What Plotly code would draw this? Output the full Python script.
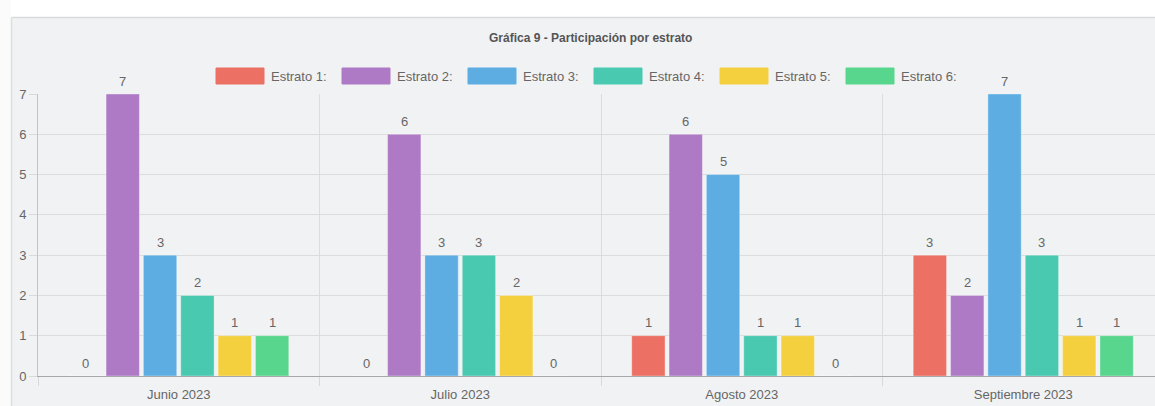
import plotly.graph_objects as go

# ---- data ----
categories = ["Junio 2023", "Julio 2023", "Agosto 2023", "Septiembre 2023"]
series_names = ["Estrato 1:", "Estrato 2:", "Estrato 3:", "Estrato 4:", "Estrato 5:", "Estrato 6:"]
estrato_1 = [0, 0, 1, 3]
estrato_2 = [7, 6, 6, 2]
estrato_3 = [3, 3, 5, 7]
estrato_4 = [2, 3, 1, 3]
estrato_5 = [1, 2, 1, 1]
estrato_6 = [1, 0, 0, 1]
series_values = [estrato_1, estrato_2, estrato_3, estrato_4, estrato_5, estrato_6]
colors = ["#EC7063", "#AF7AC5", "#5DADE2", "#48C9B0", "#F4D03F", "#58D68D"]
y_ticks = [0, 1, 2, 3, 4, 5, 6, 7]
title_text = "Gráfica 9 - Participación por estrato"

# ---- layout geometry (pixels) ----
W, H = 1155, 406
ML, MR, MT, MB = 38, 0, 94, 30
PW = W - ML - MR
PH = H - MT - MB
CAT_PX = 281.5
BARGAP = 0.204
BARGROUPGAP = 0.107
x_span = PW / CAT_PX
FONT = "Liberation Sans, Arial, Helvetica, sans-serif"
TXT = "#666666"


def px2x(px):
    return (px - ML) / PW


def px2y(py):
    return (H - MB - py) / PH


fig = go.Figure()
for name, vals, col in zip(series_names, series_values, colors):
    fig.add_trace(go.Bar(
        x=categories, y=vals, name=name,
        marker=dict(color=col, line=dict(color="rgba(255,255,255,0.35)", width=1)),
        showlegend=False, hoverinfo="x+y",
    ))

# value labels above the bars
slot = CAT_PX * (1 - BARGAP) / len(series_values)
annotations = []
n = len(series_values)
for i, vals in enumerate(series_values):
    for cat, v in zip(categories, vals):
        annotations.append(dict(
            x=cat, y=v, xref="x", yref="y", text=str(v), showarrow=False,
            xshift=(i - (n - 1) / 2) * slot, yshift=13, yanchor="middle",
            font=dict(family=FONT, size=13, color=TXT),
        ))

# title
annotations.append(dict(
    x=px2x(590), y=px2y(38), xref="paper", yref="paper", text="<b>" + title_text + "</b>",
    showarrow=False, xanchor="center", yanchor="middle",
    font=dict(family=FONT, size=12, color="#555555"),
))

shapes = []
# outer white strips + panel border
shapes.append(dict(type="rect", xref="paper", yref="paper", x0=px2x(0), x1=px2x(W), y0=px2y(0), y1=px2y(17),
                   fillcolor="#ffffff", line=dict(width=0), layer="below"))
shapes.append(dict(type="rect", xref="paper", yref="paper", x0=px2x(0), x1=px2x(11), y0=px2y(0), y1=px2y(H),
                   fillcolor="#fbfbfb", line=dict(width=0), layer="below"))
shapes.append(dict(type="line", xref="paper", yref="paper", x0=px2x(11.5), x1=px2x(W), y0=px2y(17.5), y1=px2y(17.5),
                   line=dict(color="#d8dadc", width=1.5), layer="below"))
shapes.append(dict(type="line", xref="paper", yref="paper", x0=px2x(11.5), x1=px2x(11.5), y0=px2y(17.5), y1=px2y(H),
                   line=dict(color="#dcdee0", width=1.5), layer="below"))

# custom legend (wide boxes as in the reference)
LEG_X0, LEG_PITCH, BOX_W, LEG_YC, BOX_H = 216, 126, 48, 76, 16
for i, (name, col) in enumerate(zip(series_names, colors)):
    bx = LEG_X0 + i * LEG_PITCH
    shapes.append(dict(type="rect", xref="paper", yref="paper",
                       x0=px2x(bx), x1=px2x(bx + BOX_W),
                       y0=px2y(LEG_YC + BOX_H / 2), y1=px2y(LEG_YC - BOX_H / 2),
                       fillcolor=col, line=dict(color=col, width=1), layer="above", opacity=1))
    annotations.append(dict(
        x=px2x(bx + BOX_W + 5), y=px2y(LEG_YC), xref="paper", yref="paper", text=name,
        showarrow=False, xanchor="left", yanchor="middle",
        font=dict(family=FONT, size=13, color=TXT),
    ))

fig.update_layout(
    width=W, height=H,
    margin=dict(l=ML, r=MR, t=MT, b=MB, pad=0),
    paper_bgcolor="#f1f2f4", plot_bgcolor="#f1f2f4",
    barmode="group", bargap=BARGAP, bargroupgap=BARGROUPGAP,
    showlegend=False,
    font=dict(family=FONT, size=13, color=TXT),
    annotations=annotations, shapes=shapes,
    xaxis=dict(
        type="category", range=[-0.5, -0.5 + x_span],
        tickson="boundaries", ticks="outside", ticklen=9, tickcolor="#d9d9d9", tickwidth=1,
        ticklabelstandoff=6,
        showgrid=True, gridcolor="#dcdcdc", gridwidth=1,
        showline=True, linecolor="#a8a8a8", linewidth=1,
        tickfont=dict(family=FONT, size=13, color=TXT),
        fixedrange=True,
    ),
    yaxis=dict(
        range=[0, 7], tickvals=y_ticks, ticks="outside", ticklen=8, tickcolor="#d9d9d9",
        showgrid=True, gridcolor="#dcdcdc", gridwidth=1, zeroline=False,
        showline=True, linecolor="#c4c4c4", linewidth=1,
        tickfont=dict(family=FONT, size=13, color=TXT),
        fixedrange=True,
    ),
)

fig.write_html(
    "out.html",
    config={"displayModeBar": False},
    post_script="document.body.style.margin='0px';document.body.style.overflow='hidden';",
)
